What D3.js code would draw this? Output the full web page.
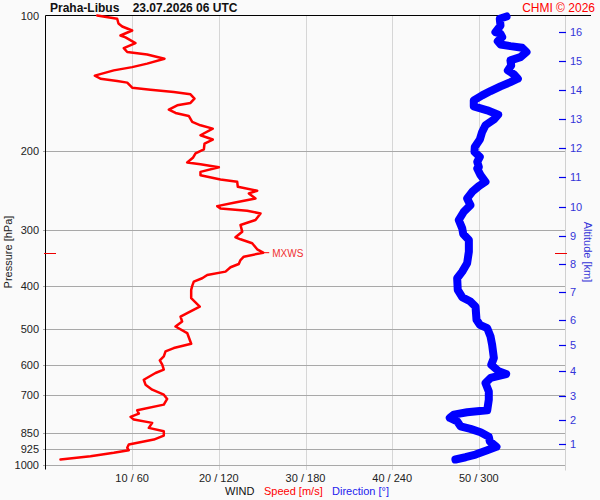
<!DOCTYPE html>
<html>
<head>
<meta charset="utf-8">
<script src="https://cdn.jsdelivr.net/npm/d3@7"></script>
<style>
	body{ margin:0; background:#fafafa; }
	svg{ display:block; font-family:"Liberation Sans", Arial, sans-serif; }
</style>
</head>
<body>
<div id="chart"></div>
<script>
// wind speed profile (red) : pressure [hPa] / speed [m/s]
const speedP = [100,101.7,104.2,105.8,108.0,110.8,111.9,115.2,118.2,120.6,122.1,124.8,128.0,130.3,132.5,136.1,138.3,140.0,141.1,144.8,146.3,148.1,149.8,153.1,156.6,158.5,162.0,164.8,167.4,172.6,175.6,178.6,184.8,188.9,192.8,198.8,202.9,207.1,212.5,214.4,217.7,223.0,226.8,231.8,234.6,240.7,245.7,249.0,255.5,261.3,265.8,268.9,272.3,275.9,285.4,289.4,292.8,303.0,311.9,315.1,321.6,331.7,337.5,344.5,350.4,357.6,363.7,371.9,378.3,384.7,391.4,400.1,408.4,426.2,444.8,460.1,468.2,480.4,492.8,509.6,538.3,550.4,560.0,574.5,586.4,599.5,615.0,625.5,647.4,664.2,681.3,699.0,714.5,735.6,757.3,770.2,783.4,794.3,807.8,828.7,843.3,862.1,879.9,902.7,918.1,929.4,941.9,958.5,974.7];
const speedV = [5.96,8.27,8.42,8.85,10.0,8.65,9.23,10.38,9.03,9.43,11.73,13.73,11.73,10.0,7.88,5.69,6.35,8.27,9.43,10.0,12.11,14.8,16.73,17.19,16.73,15.2,14.23,15.0,16.53,16.93,17.88,19.3,17.88,19.3,18.35,18.27,17.31,17.04,16.35,17.88,20.0,17.88,17.88,20.19,22.12,22.19,24.43,23.46,24.23,21.73,19.81,20.19,23.27,24.81,24.23,23.27,22.5,22.7,21.92,22.5,23.85,24.43,25.12,22.88,22.5,22.3,21.35,20.77,18.66,18.08,17.11,16.93,16.81,16.81,17.8,16.35,15.58,15.77,15.0,16.35,16.81,14.8,13.85,13.65,13.19,13.47,13.65,12.69,11.34,11.54,12.31,13.65,14.04,13.65,10.58,10.77,9.81,10.19,12.31,11.92,13.65,13.65,12.5,9.61,9.43,9.61,7.88,5.19,1.73];

// wind direction profile (blue) : pressure [hPa] / direction [deg]
const dirP = [100.5,101.7,105.3,108.9,109.8,111.7,114.1,116.0,117.0,118.0,120.6,123.8,125.9,129.2,132.5,135.2,138.3,140.7,143.8,147.3,150.6,154.5,159.3,162.6,166.3,170.5,175.6,181.7,188.9,196.2,201.3,206.5,211.8,217.3,219.1,226.8,234.6,239.9,247.0,255.5,264.4,273.6,285.4,297.9,306.7,316.2,335.7,356.3,371.9,384.7,408.4,424.0,433.7,444.9,476.2,488.5,496.9,518.7,541.2,579.3,599.5,620.3,628.8,641.7,658.5,687.4,717.1,757.3,765.2,774.3,787.5,801.3,822.1,833.1,847.6,867.8,888.1,913.4,929.4,950.1,963.4,974.7];
const dirV = [319.2,314.5,315.0,311.5,315.0,316.2,313.1,315.0,321.9,330.0,333.0,328.8,321.9,322.4,320.1,324.2,327.0,321.9,315.0,308.1,302.3,296.5,296.5,305.8,313.4,310.4,304.6,302.3,300.7,297.2,297.0,300.7,298.9,300.0,298.9,301.2,304.6,300.0,295.4,291.9,294.2,289.6,286.1,288.5,289.2,293.1,293.1,291.9,288.5,285.0,285.4,288.5,294.2,297.7,298.4,300.7,305.8,308.1,309.2,310.4,308.6,313.8,318.9,308.1,304.6,306.9,306.9,305.8,291.9,282.7,279.9,285.0,287.3,294.2,301.2,306.9,307.6,312.2,305.8,297.7,290.8,283.8];

// axes
const pressureTicks = [100,200,300,400,500,600,700,850,925,1000];
const speedTicks = [10,20,30,40,50];
const speedTickLabels = ["10 / 60","20 / 120","30 / 180","40 / 240","50 / 300"];
const altitudeKm = [1,2,3,4,5,6,7,8,9,10,11,12,13,14,15,16];
const altitudeP = [899.5,795.5,705.0,620.3,543.0,476.9,413.3,358.1,309.3,267.1,228.8,196.8,169.6,146.6,126.3,108.9];
const mxwsP = 337.5, mxwsSpeed = 25.12;

const W = 600, H = 500;
const m = {left: 45.5, right: 565.5, top: 15.5, bottom: 464.5};

const svg = d3.select('#chart').append('svg').attr('width',W).attr('height',H);
svg.append('rect').attr('width',W).attr('height',H).attr('fill','#fafafa');

const y = d3.scaleLog().domain([100,1000]).range([m.top,m.bottom]);
const x = d3.scaleLinear().domain([0,60]).range([m.left,m.right]);
const xd = d3.scaleLinear().domain([0,360]).range([m.left,m.right]);
const py = p => Math.round(y(p))+0.5;

// vertical grid
svg.append('g').selectAll('line').data(speedTicks).join('line')
	.attr('x1',d=>Math.round(x(d))+0.5).attr('x2',d=>Math.round(x(d))+0.5)
	.attr('y1',m.top).attr('y2',470)
	.attr('stroke','#d6d6d6').attr('stroke-width',1);
svg.append('g').selectAll('text').data(speedTicks).join('text')
	.attr('x',d=>x(d)).attr('y',482)
	.attr('text-anchor','middle').attr('font-size',11).attr('fill','#222')
	.text((d,i)=>speedTickLabels[i]);

// horizontal grid
svg.append('g').selectAll('line').data(pressureTicks.slice(1)).join('line')
	.attr('x1',43).attr('x2',m.right)
	.attr('y1',py).attr('y2',py)
	.attr('stroke','#a8a8a8').attr('stroke-width',1);
svg.append('g').selectAll('text').data(pressureTicks).join('text')
	.attr('x',39).attr('y',d=>y(d)+4)
	.attr('text-anchor','end').attr('font-size',11).attr('fill','#222')
	.text(d=>d);

// frame
svg.append('line').attr('x1',m.right).attr('x2',m.right).attr('y1',m.top).attr('y2',470.5)
	.attr('stroke','#d0d0d0');
svg.append('line').attr('x1',m.left).attr('x2',m.left).attr('y1',m.top).attr('y2',469.5)
	.attr('stroke','#000');
svg.append('line').attr('x1',m.left).attr('x2',591).attr('y1',m.top).attr('y2',m.top)
	.attr('stroke','#000');

// altitude axis
const alt = svg.append('g');
alt.selectAll('line').data(altitudeP).join('line')
	.attr('x1',559).attr('x2',566)
	.attr('y1',py).attr('y2',py)
	.attr('stroke','#0000ee').attr('stroke-width',1.2);
alt.selectAll('text').data(altitudeP).join('text')
	.attr('x',570).attr('y',d=>y(d)+4)
	.attr('font-size',11).attr('fill','#3434d8')
	.text((d,i)=>altitudeKm[i]);

// MXWS level markers
svg.append('line').attr('x1',44).attr('x2',56).attr('y1',py(mxwsP)).attr('y2',py(mxwsP))
	.attr('stroke','#e00');
svg.append('line').attr('x1',555).attr('x2',567).attr('y1',py(mxwsP)).attr('y2',py(mxwsP))
	.attr('stroke','#e00');

// direction profile
const dirLine = d3.line().x((d,i)=>xd(dirV[i])).y(d=>y(d));
svg.append('path').datum(dirP)
	.attr('fill','none').attr('stroke','#0000ff').attr('stroke-width',8)
	.attr('stroke-linejoin','round').attr('stroke-linecap','round')
	.attr('d',dirLine);

// speed profile
const spdLine = d3.line().x((d,i)=>x(speedV[i])).y(d=>y(d));
svg.append('path').datum(speedP)
	.attr('fill','none').attr('stroke','#ff0000').attr('stroke-width',2.5)
	.attr('stroke-linejoin','round').attr('stroke-linecap','round')
	.attr('d',spdLine);

// MXWS label
svg.append('line').attr('x1',x(mxwsSpeed)).attr('x2',x(mxwsSpeed)+6)
	.attr('y1',y(mxwsP)).attr('y2',y(mxwsP)).attr('stroke','#f00');
svg.append('text').attr('x',x(mxwsSpeed)+9).attr('y',y(mxwsP)+4)
	.attr('font-size',10).attr('fill','#f03030').text('MXWS');

// titles
svg.append('text').attr('x',50).attr('y',12).attr('font-size',12).attr('font-weight','bold').attr('fill','#111')
	.attr('xml:space','preserve').text('Praha-Libus    23.07.2026 06 UTC');
svg.append('text').attr('x',595).attr('y',12).attr('font-size',12).attr('fill','#f00')
	.attr('text-anchor','end').text('CHMI © 2026');

svg.append('text').attr('transform','translate(12,252) rotate(-90)')
	.attr('text-anchor','middle').attr('font-size',11).attr('fill','#222').text('Pressure [hPa]');
svg.append('text').attr('transform','translate(584,252) rotate(90)')
	.attr('text-anchor','middle').attr('font-size',11).attr('fill','#3434d8').text('Altitude [km]');

// footer
svg.append('text').attr('x',225).attr('y',495).attr('font-size',11).attr('fill','#111').text('WIND');
svg.append('text').attr('x',264).attr('y',495).attr('font-size',11).attr('fill','#f00').text('Speed [m/s]');
svg.append('text').attr('x',332).attr('y',495).attr('font-size',11).attr('fill','#2222ee').text('Direction [°]');
</script>
</body>
</html>
